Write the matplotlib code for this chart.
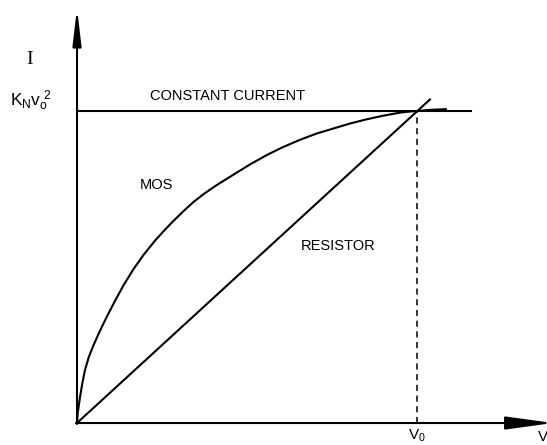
import matplotlib
matplotlib.use("Agg")
import matplotlib.pyplot as plt

# Normalised units: V / V0 and I / (K_N V0^2)
mos_v = [0.0, 0.002, 0.009, 0.0156, 0.0235, 0.035, 0.048, 0.063, 0.077,
         0.092, 0.112, 0.136, 0.166, 0.195, 0.229, 0.259, 0.283, 0.313,
         0.342, 0.375, 0.410, 0.460, 0.509, 0.560, 0.607, 0.656, 0.705,
         0.760, 0.803, 0.850, 0.900, 0.950, 0.984, 1.0, 1.04, 1.085]
mos_i = [0.0, 0.031, 0.084, 0.127, 0.170, 0.2125, 0.248, 0.285, 0.317,
         0.350, 0.392, 0.440, 0.493, 0.538, 0.584, 0.620, 0.647, 0.679,
         0.708, 0.736, 0.762, 0.796, 0.829, 0.860, 0.885, 0.908, 0.928,
         0.946, 0.960, 0.973, 0.985, 0.995, 0.999, 1.0, 1.004, 1.006]
res_v = [0.0, 1.038]
res_i = [0.0, 1.037]
const_v = [0.0, 1.159]
const_i = [1.0, 1.0]
v0 = 1.0

fig = plt.figure(figsize=(5.47, 4.45), dpi=100)
ax = fig.add_axes([0, 0, 1, 1])
ax.set_xlim(-0.2265, 1.3824)
ax.set_ylim(-0.0705, 1.356)
ax.axis("off")

lw = 1.5
ax.plot(mos_v, mos_i, color="black", lw=lw, solid_joinstyle="round")
ax.plot(res_v, res_i, color="black", lw=lw)
ax.plot(const_v, const_i, color="black", lw=lw)
ax.plot([v0, v0], [0.0, 1.0], color="black", lw=1.1, dashes=(4, 3))

# axes with arrow heads
ax.annotate("", xy=(0, 1.33), xytext=(0, -0.003), annotation_clip=False,
            arrowprops=dict(arrowstyle="-|>,head_length=2.2,head_width=0.26",
                            mutation_scale=10, lw=lw, color="black",
                            shrinkA=0, shrinkB=0))
ax.annotate("", xy=(1.40, 0), xytext=(-0.003, 0), annotation_clip=False,
            arrowprops=dict(arrowstyle="-|>,head_length=2.9,head_width=0.4",
                            mutation_scale=10, lw=lw, color="black",
                            shrinkA=0, shrinkB=0))

font = dict(family="Liberation Sans", color="black")
ax.text(0.443, 1.048, "CONSTANT CURRENT", fontsize=10.5, ha="center", va="center", **font)
ax.text(0.235, 0.763, "MOS", fontsize=10.5, ha="center", va="center", **font)
ax.text(0.768, 0.567, "RESISTOR", fontsize=10.5, ha="center", va="center", **font)
ax.text(-0.14, 1.165, "I", fontsize=14, ha="center", va="center",
        family="Liberation Serif")
ax.text(-0.135, 0.995, r"$\mathregular{K_N v_o^{\;2}}$", fontsize=12.5,
        ha="center", va="bottom", **font)
ax.text(v0, -0.016, r"$\mathregular{V_0}$", fontsize=11, ha="center", va="top", **font)
ax.text(1.37, -0.022, "V", fontsize=11, ha="center", va="top", **font)

fig.savefig("out.png", dpi=100)
